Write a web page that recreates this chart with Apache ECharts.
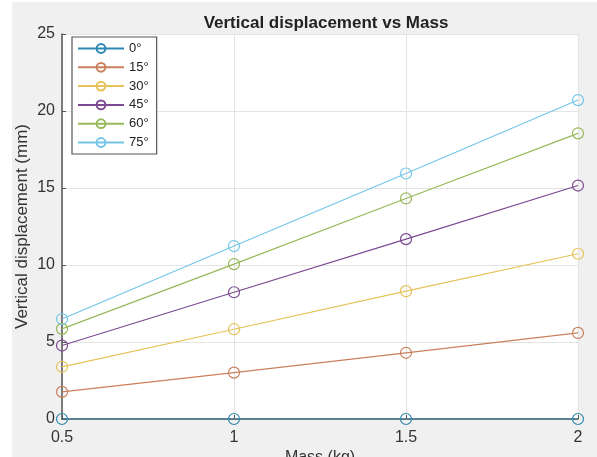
<!DOCTYPE html>
<html>
<head>
<meta charset="utf-8">
<script src="https://cdn.jsdelivr.net/npm/echarts@6/dist/echarts.min.js"></script>
<style>html,body{margin:0;padding:0;background:#ffffff;}#c{width:597px;height:457px;}</style>
</head>
<body>
<div id="c"></div>
<script>
const masses = [0.5, 1, 1.5, 2];
const seriesNames = ['0°', '15°', '30°', '45°', '60°', '75°'];
const d0 = [0, 0, 0, 0];
const d15 = [1.76, 3.01, 4.30, 5.59];
const d30 = [3.39, 5.83, 8.30, 10.73];
const d45 = [4.77, 8.23, 11.68, 15.16];
const d60 = [5.85, 10.06, 14.32, 18.55];
const d75 = [6.49, 11.23, 15.94, 20.71];
const xTicks = [0.5, 1, 1.5, 2];
const yTicks = [0, 5, 10, 15, 20, 25];

const values = [d0, d15, d30, d45, d60, d75];
const colors = ['#2f88b3', '#c9805c', '#e6c25a', '#7b4a92', '#97b95a', '#74c6e8'];
const font = 'Liberation Sans, Arial, sans-serif';

const chart = echarts.init(document.getElementById('c'), null, {renderer: 'canvas'});
chart.setOption({
  backgroundColor: '#ffffff',
  animation: false,
  graphic: [{
    type: 'rect', z: -100, silent: true,
    shape: {x: 12, y: 2, width: 585, height: 455},
    style: {fill: '#f0f0f0'}
  }],
  title: {
    text: 'Vertical displacement vs Mass',
    left: 321, top: 10, textAlign: 'center',
    textStyle: {fontFamily: font, fontSize: 17, fontWeight: 'bold', color: '#222'}
  },
  grid: {left: 62, right: 19, top: 34, bottom: 38, show: true, backgroundColor: '#ffffff', borderWidth: 0,
    containLabel: false, outerBoundsMode: 'none'},
  legend: {
    left: 72, top: 37, orient: 'vertical',
    itemWidth: 46, itemHeight: 11, itemGap: 5.8,
    padding: [5, 8, 5, 5],
    backgroundColor: '#ffffff', borderColor: '#555', borderWidth: 1.2,
    textStyle: {fontFamily: font, fontSize: 13, color: '#222'},
    data: seriesNames
  },
  xAxis: {
    type: 'value', min: 0.5, max: 2, interval: 0.5,
    name: 'Mass (kg)', nameLocation: 'middle', nameGap: 31, nameMoveOverlap: false,
    nameTextStyle: {fontFamily: font, fontSize: 16, color: '#333'},
    axisLine: {show: true, onZero: false, lineStyle: {color: '#555', width: 1.5}},
    axisTick: {show: true, inside: true, length: 4, lineStyle: {color: '#555'}},
    axisLabel: {fontFamily: font, fontSize: 16, color: '#333', margin: 11,
      formatter: v => xTicks.includes(v) ? String(v) : ''},
    splitLine: {show: true, lineStyle: {color: '#e4e4e4', width: 1}}
  },
  yAxis: {
    type: 'value', min: 0, max: 25, interval: 5,
    name: 'Vertical displacement (mm)', nameLocation: 'middle', nameGap: 31, nameMoveOverlap: false,
    nameTextStyle: {fontFamily: font, fontSize: 17, color: '#333'},
    axisLine: {show: true, onZero: false, lineStyle: {color: '#555', width: 1.5}},
    axisTick: {show: true, inside: true, length: 4, lineStyle: {color: '#555'}},
    axisLabel: {fontFamily: font, fontSize: 16, color: '#333', margin: 7,
      formatter: v => yTicks.includes(v) ? String(v) : ''},
    splitLine: {show: true, lineStyle: {color: '#e4e4e4', width: 1}}
  },
  series: seriesNames.map((n, i) => ({
    name: n, type: 'line',
    data: masses.map((m, j) => [m, values[i][j]]),
    symbol: 'circle', symbolSize: 11,
    color: colors[i],
    lineStyle: {width: 1.2, color: colors[i]},
    itemStyle: {color: 'rgba(255,255,255,0)', borderColor: colors[i], borderWidth: 1.2},
    emphasis: {disabled: true},
    z: 2 + i
  }))
});
</script>
</body>
</html>
